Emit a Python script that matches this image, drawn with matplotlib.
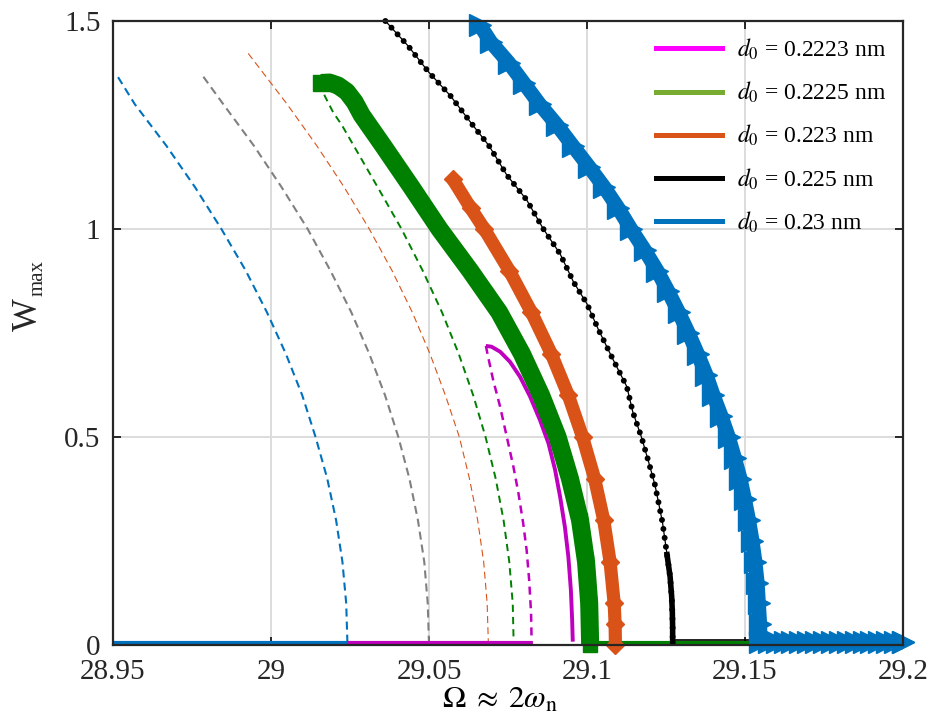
import matplotlib
matplotlib.use("Agg")
import matplotlib.pyplot as plt
from matplotlib.lines import Line2D

plt.rcParams['font.family'] = ['Liberation Serif', 'DejaVu Serif']
plt.rcParams['mathtext.fontset'] = 'stix'
plt.rcParams['lines.scale_dashes'] = False

# ---------------- data ----------------
# blue dashed branch
blue_dash_W = [1.365, 1.3, 1.2, 1.1, 1.0, 0.9, 0.8, 0.7, 0.6, 0.5, 0.4, 0.3, 0.2, 0.1, 0.0]
blue_dash_X = [28.9516, 28.9569, 28.9669, 28.9760, 28.9843, 28.9920, 28.9987, 29.0047, 29.0099,
               29.0141, 29.0178, 29.0206, 29.0226, 29.0238, 29.0242]
blue_flat_X = [28.95, 29.0242]
blue_flat_W = [0.006, 0.006]

# blue triangles (d0 = 0.23 nm)
blue_W = [1.49, 1.45, 1.40, 1.35, 1.30, 1.25, 1.20, 1.15, 1.10, 1.05, 1.00, 0.95, 0.90, 0.85,
          0.80, 0.75, 0.70, 0.65, 0.60, 0.55, 0.50, 0.45, 0.40, 0.35, 0.30, 0.25, 0.20, 0.15,
          0.10, 0.05, 0.007,
          0.007, 0.007, 0.007, 0.007, 0.007, 0.007, 0.007, 0.007, 0.007, 0.007,
          0.007, 0.007, 0.007, 0.007, 0.007, 0.007, 0.007, 0.007, 0.007]
blue_X = [29.0661, 29.0695, 29.0752, 29.0801, 29.0850, 29.0905, 29.0955, 29.1006, 29.1055,
          29.1099, 29.1139, 29.1182, 29.1222, 29.1257, 29.1290, 29.1321, 29.1350, 29.1377,
          29.1400, 29.1425, 29.1448, 29.1467, 29.1485, 29.1499, 29.1512, 29.1523, 29.1532,
          29.1539, 29.1543, 29.1547, 29.1548,
          29.1575, 29.1600, 29.1625, 29.1650, 29.1675, 29.1700, 29.1725, 29.1750, 29.1775,
          29.1800, 29.1825, 29.1850, 29.1875, 29.1900, 29.1925, 29.1950, 29.1975, 29.2000,
          29.2000]

# gray dashed
gray_dash_W = [1.366, 1.3, 1.2, 1.1, 1.0, 0.9, 0.8, 0.7, 0.6, 0.5, 0.4, 0.3, 0.2, 0.1, 0.0]
gray_dash_X = [28.9786, 28.9849, 28.9946, 29.0034, 29.0116, 29.0188, 29.0254, 29.0311, 29.0361,
               29.0403, 29.0438, 29.0465, 29.0485, 29.0496, 29.0500]

# orange thin dashed
orng_dash_W = [1.422, 1.3, 1.2, 1.1, 1.0, 0.9, 0.8, 0.7, 0.6, 0.5, 0.4, 0.3, 0.2, 0.1, 0.0]
orng_dash_X = [28.9928, 29.0051, 29.0145, 29.0232, 29.0311, 29.0383, 29.0447, 29.0503, 29.0552,
               29.0596, 29.0628, 29.0654, 29.0673, 29.0684, 29.0688]

# green dashed
grn_dash_W = [1.351, 1.32, 1.28, 1.25, 1.2, 1.1, 1.0, 0.9, 0.8, 0.7, 0.6, 0.5, 0.4, 0.3, 0.2,
              0.1, 0.0]
grn_dash_X = [29.0158, 29.0170, 29.0197, 29.0224, 29.0262, 29.0338, 29.0413, 29.0480, 29.0541,
              29.0594, 29.0640, 29.0679, 29.0711, 29.0736, 29.0754, 29.0765, 29.0768]

# magenta (d0 = 0.2223 nm)
mag_dash_W = [0.719, 0.693, 0.637, 0.573, 0.501, 0.429, 0.365, 0.293, 0.228, 0.156, 0.076, 0.0]
mag_dash_X = [29.0680, 29.0687, 29.0703, 29.0725, 29.0746, 29.0767, 29.0783, 29.0798, 29.0809,
              29.0817, 29.0823, 29.0825]
mag_W = [0.719, 0.717, 0.705, 0.681, 0.645, 0.597, 0.541, 0.485, 0.421, 0.356, 0.284, 0.212,
         0.132, 0.06, 0.008]
mag_X = [29.0680, 29.0698, 29.0725, 29.0756, 29.0788, 29.0820, 29.0851, 29.0878, 29.0899,
         29.0915, 29.0930, 29.0941, 29.0949, 29.0953, 29.0955]
mag_flat_X = [29.0242, 29.0825]
mag_flat_W = [0.006, 0.006]

# green thick (d0 = 0.2225 nm)
grn_W = [1.351, 1.352, 1.345, 1.33, 1.305, 1.274, 1.2, 1.1, 1.0, 0.9, 0.8, 0.7, 0.6, 0.5, 0.4,
         0.3, 0.2, 0.1, 0.0]
grn_X = [29.0158, 29.0185, 29.0212, 29.0240, 29.0265, 29.0287, 29.0355, 29.0445, 29.0533,
         29.0630, 29.0722, 29.0794, 29.0855, 29.0907, 29.0946, 29.0978, 29.0997, 29.1007, 29.1010]
grn_flat_X = [29.1010, 29.1550]
grn_flat_W = [0.006, 0.006]

# orange diamonds (d0 = 0.223 nm)
orng_W = [1.12, 1.05, 1.0, 0.9, 0.8, 0.7, 0.6, 0.5, 0.4, 0.3, 0.2, 0.1, 0.05, 0.0]
orng_X = [29.0575, 29.0632, 29.0675, 29.0754, 29.0824, 29.0887, 29.0941, 29.0986, 29.1024,
          29.1053, 29.1073, 29.1086, 29.1089, 29.1090]

# black dots (d0 = 0.225 nm)
blk_W = [1.5, 1.44, 1.378, 1.32, 1.258, 1.2, 1.13, 1.07, 1.0, 0.94, 0.873, 0.82, 0.76, 0.69,
         0.621, 0.56, 0.498, 0.44, 0.385, 0.34, 0.294, 0.224, 0.164, 0.116, 0.08, 0.04, 0.012, 0.0]
blk_X = [29.0362, 29.0434, 29.0498, 29.0568, 29.0630, 29.0690, 29.0746, 29.0809, 29.0862,
         29.0915, 29.0957, 29.1000, 29.1035, 29.1080, 29.1126, 29.1145, 29.1173, 29.1195,
         29.1215, 29.1227, 29.1239, 29.1252, 29.1263, 29.1268, 29.1270, 29.1271, 29.1271, 29.1272]
blk_flat_X = [29.1272, 29.1550]
blk_flat_W = [0.012, 0.012]

legend_labels = ['0.2223', '0.2225', '0.223', '0.225', '0.23']
legend_colors = ['#FF00FF', '#77AC30', '#D95319', '#000000', '#0072BD']

xticks = [28.95, 29.0, 29.05, 29.1, 29.15, 29.2]
xticklabels = ['28.95', '29', '29.05', '29.1', '29.15', '29.2']
yticks = [0, 0.5, 1.0, 1.5]
yticklabels = ['0', '0.5', '1', '1.5']

# ---------------- figure ----------------
C_BLUE = '#0072BD'
C_ORNG = '#D95319'
C_GRN = '#008000'
C_MAG = '#BF00BF'
C_GRAY = '#808080'

fig = plt.figure(figsize=(9.34, 7.24), dpi=100)
ax = fig.add_axes([113 / 934, 79 / 724, 790 / 934, 624 / 724])

# dashed (unstable) branches
ax.plot(blue_dash_X, blue_dash_W, color=C_BLUE, lw=1.5, dashes=(5.8, 3.6))
ax.plot(gray_dash_X, gray_dash_W, color=C_GRAY, lw=1.5, dashes=(5.8, 3.6))
ax.plot(orng_dash_X, orng_dash_W, color=C_ORNG, lw=0.8, dashes=(5.0, 3.0))
ax.plot(grn_dash_X, grn_dash_W, color=C_GRN, lw=1.4, dashes=(5.2, 3.6))
ax.plot(mag_dash_X, mag_dash_W, color=C_MAG, lw=1.8, dashes=(5.8, 4.0))

# trivial branches
ax.plot(blue_flat_X, blue_flat_W, color=C_BLUE, lw=3.0, solid_capstyle='butt')
ax.plot(mag_flat_X, mag_flat_W, color=C_MAG, lw=3.0, solid_capstyle='butt')

# magenta stable branch
ax.plot(mag_X, mag_W, color=C_MAG, lw=2.8, solid_capstyle='butt', solid_joinstyle='round')

# green thick (squares)
ax.plot(grn_flat_X, grn_flat_W, color=C_GRN, lw=3.0, solid_capstyle='butt', clip_on=False)
ax.plot(grn_X, grn_W, color=C_GRN, lw=13, solid_capstyle='butt', solid_joinstyle='round',
        clip_on=False)
ax.plot(grn_X[-4:], grn_W[-4:], ls='none', marker='s', ms=10.5, mec=C_GRN, mfc=C_GRN,
        clip_on=False)
ax.plot(grn_X[:1], grn_W[:1], ls='none', marker='s', ms=11, mec=C_GRN, mfc=C_GRN, clip_on=False)

# orange diamonds
ax.plot(orng_X, orng_W, color=C_ORNG, lw=9.5, marker='D', ms=9.5, mec=C_ORNG, mfc=C_ORNG,
        solid_capstyle='butt', solid_joinstyle='round', clip_on=False)

# black dots
ax.plot(blk_flat_X, blk_flat_W, color='k', lw=1.2, clip_on=False)
ax.plot(blk_X, blk_W, color='k', lw=0.9, clip_on=False)
ax.plot(blk_X, blk_W, color='k', lw=4.3, dashes=(0.01, 6.5), dash_capstyle='round', clip_on=False)
tail = [i for i, w in enumerate(blk_W) if w <= 0.224]
ax.plot([blk_X[i] for i in tail], [blk_W[i] for i in tail], color='k', lw=4.0,
        solid_capstyle='butt', clip_on=False)

# blue triangles
ax.plot(blue_X, blue_W, color=C_BLUE, lw=10.5, marker='>', ms=15.5, mec=C_BLUE, mfc=C_BLUE,
        solid_capstyle='butt', solid_joinstyle='round', clip_on=False)

# axes styling
ax.set_xlim(28.95, 29.2)
ax.set_ylim(0, 1.5)
ax.set_xticks(xticks)
ax.set_xticklabels(xticklabels)
ax.set_yticks(yticks)
ax.set_yticklabels(yticklabels)
ax.tick_params(direction='in', length=6, width=1.4, top=True, right=True,
               labelsize=21, colors='#262626')
ax.tick_params(axis='x', pad=10)
ax.tick_params(axis='y', pad=9)
ax.grid(True, color='#DCDCDC', lw=1.4)
ax.set_axisbelow(True)
for s in ax.spines.values():
    s.set_linewidth(1.6)
    s.set_color('#262626')
    s.set_zorder(5)

ax.set_xlabel(r'$\Omega \;\approx\; 2\omega_{\mathrm{n}}$', fontsize=22.5)
ax.xaxis.set_label_coords(0.49, -0.066)

fig.text(28 / 934, 1 - 315 / 724, 'W', rotation=90, fontsize=25, ha='center', va='center',
         color='#262626')
fig.text(38 / 934, 1 - 278 / 724, 'max', rotation=90, fontsize=15, ha='center', va='center',
         color='#262626')

handles = [Line2D([], [], color=c, lw=3.6) for c in legend_colors]
labels = [r'$d_{\mathit{0}}$ = %s nm' % v for v in legend_labels]
ax.legend(handles, labels, loc='upper right', bbox_to_anchor=(0.99, 0.99),
          borderaxespad=0, frameon=False, fontsize=17, handlelength=2.8,
          handletextpad=0.6, labelspacing=0.76)

fig.savefig('out.png', dpi=100)
